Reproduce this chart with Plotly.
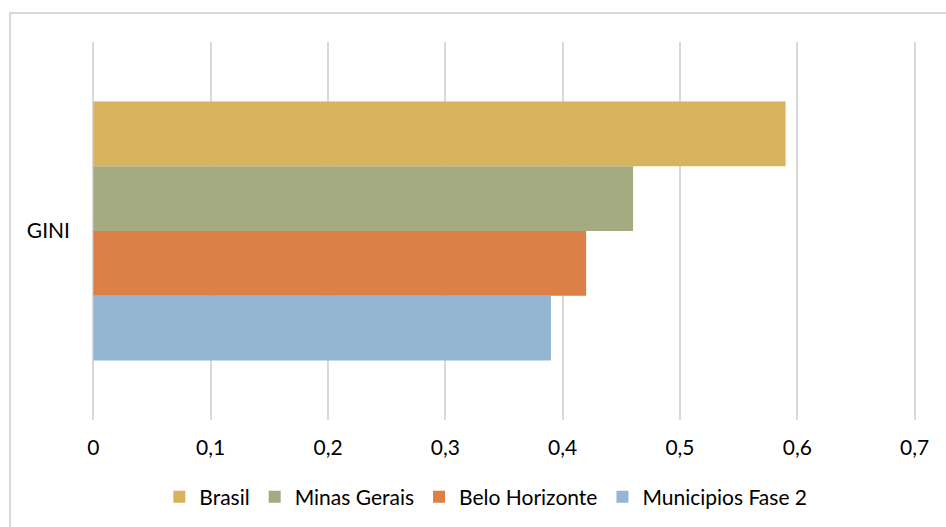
import plotly.graph_objects as go

category = ["GINI"]
series = ["Brasil", "Minas Gerais", "Belo Horizonte", "Municipios Fase 2"]
values = [0.59, 0.46, 0.42, 0.39]
colors = ["#D8B25C", "#A5AB81", "#DD8047", "#94B6D2"]
x_ticks = [0, 0.1, 0.2, 0.3, 0.4, 0.5, 0.6, 0.7]
x_tick_text = ["0", "0,1", "0,2", "0,3", "0,4", "0,5", "0,6", "0,7"]

font_family = "Lato, 'Open Sans', sans-serif"

fig = go.Figure()
# Plotly stacks grouped horizontal bars from the bottom up, so add them in reverse
for name, val, col in reversed(list(zip(series, values, colors))):
    fig.add_trace(go.Bar(
        y=category, x=[val], name=name, orientation="h",
        marker=dict(color=col, line=dict(width=0)),
    ))

fig.update_layout(
    width=946, height=527,
    margin=dict(l=91, r=29, t=42, b=107, autoexpand=False),
    paper_bgcolor="white", plot_bgcolor="white",
    barmode="group", bargap=0.315, bargroupgap=0,
    separators=",.",
    font=dict(family=font_family, color="#000000", size=21),
    showlegend=True,
    legend=dict(
        orientation="h", traceorder="reversed",
        x=0.478, xanchor="center", y=-0.204, yanchor="middle",
        font=dict(size=21, family=font_family, color="#000000"),
        itemwidth=30, tracegroupgap=0,
    ),
    xaxis=dict(
        range=[-0.002, 0.702], tickvals=x_ticks, ticktext=x_tick_text,
        showgrid=True, gridcolor="#D9D9D9", gridwidth=2,
        zeroline=False, showline=False, ticks="",
        ticklabelstandoff=13, tickfont=dict(size=21),
    ),
    yaxis=dict(
        showgrid=False, zeroline=False, showline=False, ticks="",
        ticklabelstandoff=20, tickfont=dict(size=21),
    ),
    shapes=[dict(
        type="rect", xref="paper", yref="paper",
        x0=-0.098, x1=1.5, y0=-1.0, y1=1.0767,
        line=dict(color="#D9D9D9", width=2), fillcolor="rgba(0,0,0,0)",
        layer="below",
    )],
)

fig.write_html("out.html")
